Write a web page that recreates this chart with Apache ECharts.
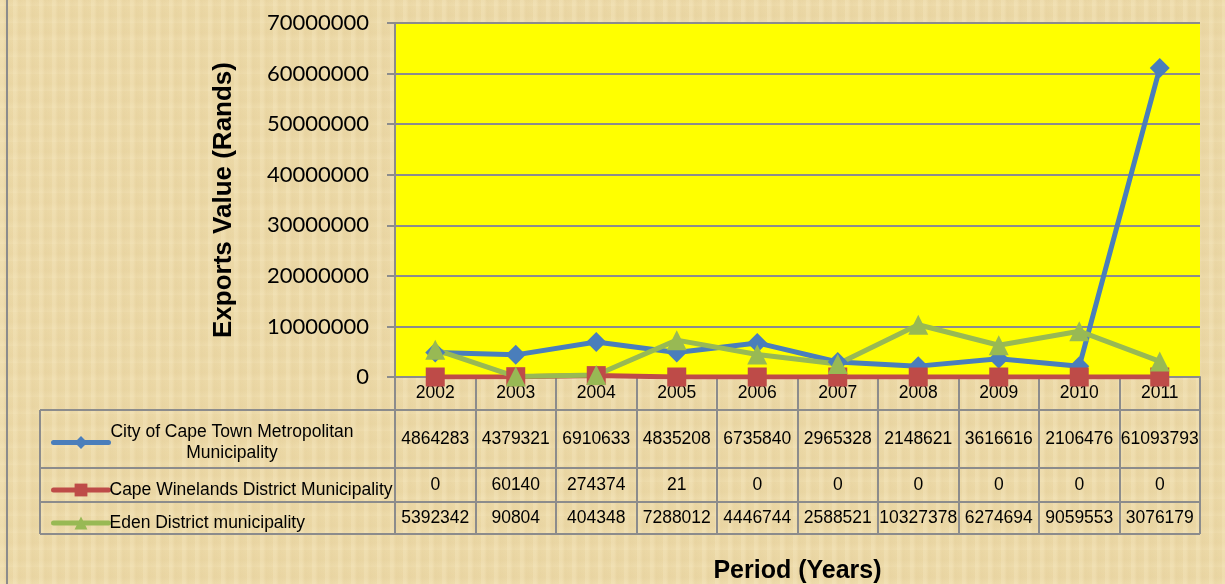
<!DOCTYPE html>
<html>
<head>
<meta charset="utf-8">
<script src="https://cdn.jsdelivr.net/npm/echarts@6/dist/echarts.min.js"></script>
<style>
  html, body { margin: 0; padding: 0; }
  #main {
    width: 1225px; height: 584px;
    background-color: #ecd9a7;
    background-image:
      repeating-linear-gradient(90deg, rgba(255,245,215,0.18) 0px, rgba(255,245,215,0.18) 3px, rgba(200,170,110,0.06) 6px, rgba(255,245,215,0) 13px),
      repeating-linear-gradient(0deg, rgba(255,245,215,0.12) 0px, rgba(200,170,110,0.05) 7px, rgba(255,245,215,0) 17px);
  }
</style>
</head>
<body>
<div id="main"></div>
<script>
var years = ['2002', '2003', '2004', '2005', '2006', '2007', '2008', '2009', '2010', '2011'];
var capeTown = [4864283, 4379321, 6910633, 4835208, 6735840, 2965328, 2148621, 3616616, 2106476, 61093793];
var winelands = [0, 60140, 274374, 21, 0, 0, 0, 0, 0, 0];
var eden = [5392342, 90804, 404348, 7288012, 4446744, 2588521, 10327378, 6274694, 9059553, 3076179];
var seriesNames = ['City of Cape Town Metropolitan Municipality', 'Cape Winelands District Municipality', 'Eden District municipality'];
var yTicks = [0, 10000000, 20000000, 30000000, 40000000, 50000000, 60000000, 70000000];

var gray = '#8c8c8c';
var tableFont = '"Liberation Sans", Arial, sans-serif';

var dom = document.getElementById('main');
var myChart = echarts.init(dom);

// extra category axes used as the rows of the data table
function tableRow(values, offset) {
    return {
        type: 'category',
        data: values.map(String),
        position: 'bottom',
        offset: offset,
        axisLine: { show: false },
        axisTick: { show: false },
        axisLabel: {
            interval: 0, margin: 0, verticalAlign: 'middle',
            color: '#000', fontFamily: tableFont, fontSize: 17.5
        }
    };
}

function rowLegend(name, top, text) {
    return {
        data: [name],
        left: 46,
        top: top,
        itemWidth: 55,
        itemHeight: 16,
        itemGap: 0,
        selectedMode: false,
        lineStyle: { width: 5, cap: 'round' },
        formatter: function () { return text; },
        textStyle: {
            color: '#000', fontFamily: tableFont, fontSize: 17.5, padding: [0, 0, 0, -4],
            rich: { c: { width: 245, align: 'center', fontFamily: tableFont, fontSize: 17.5, lineHeight: 21, color: '#000' } }
        }
    };
}

option = {
    backgroundColor: 'transparent',
    animation: false,
    grid: { left: 395, right: 25, top: 23, bottom: 207, outerBoundsMode: 'none', containLabel: false },
    legend: [
        rowLegend(seriesNames[0], 418, '{c|City of Cape Town Metropolitan}\n{c|Municipality}'),
        rowLegend(seriesNames[1], 476, seriesNames[1]),
        rowLegend(seriesNames[2], 509, seriesNames[2])
    ],
    xAxis: [{
        type: 'category',
        data: years,
        boundaryGap: true,
        name: 'Period (Years)',
        nameLocation: 'middle',
        nameGap: 182,
        nameTextStyle: { color: '#000', fontWeight: 'bold', fontSize: 25, fontFamily: '"Liberation Sans", Arial, sans-serif' },
        axisLine: { lineStyle: { color: gray, width: 2 } },
        axisTick: { show: true, length: 157, lineStyle: { color: gray, width: 2 } },
        axisLabel: {
            interval: 0, margin: 16, verticalAlign: 'middle',
            color: '#000', fontFamily: tableFont, fontSize: 17.5
        }
    },
        tableRow(capeTown, 62),
        tableRow(winelands, 108),
        tableRow(eden, 141)
    ],
    yAxis: {
        type: 'value',
        min: 0,
        max: 70000000,
        interval: 10000000,
        name: 'Exports Value (Rands)',
        nameLocation: 'middle',
        nameGap: 158,
        nameTextStyle: { color: '#000', fontWeight: 'bold', fontSize: 26, fontFamily: '"Liberation Sans", Arial, sans-serif' },
        axisLine: { show: true, lineStyle: { color: gray, width: 2 } },
        axisTick: { show: true, length: 8, lineStyle: { color: gray, width: 2 } },
        splitLine: { lineStyle: { color: gray, width: 2 } },
        axisLabel: {
            margin: 26,
            color: '#000', fontFamily: 'Lato, "Open Sans", sans-serif', fontSize: 22,
            formatter: function (v) { return yTicks.indexOf(v) >= 0 ? String(v) : ''; }
        }
    },
    series: [{
        name: seriesNames[0],
        type: 'line',
        data: capeTown,
        symbol: 'diamond',
        symbolSize: 20,
        lineStyle: { color: '#4a7ebb', width: 5 },
        itemStyle: { color: '#4a7ebb' }
    }, {
        name: seriesNames[1],
        type: 'line',
        data: winelands,
        symbol: 'rect',
        symbolSize: 19,
        lineStyle: { color: '#be4b48', width: 5 },
        itemStyle: { color: '#be4b48' }
    }, {
        name: seriesNames[2],
        type: 'line',
        data: eden,
        symbol: 'triangle',
        symbolSize: 20,
        lineStyle: { color: '#98b954', width: 5 },
        itemStyle: { color: '#98b954' }
    }],
    graphic: [
        // plot background
        { type: 'rect', z: -1, shape: { x: 395, y: 23, width: 805, height: 354 }, style: { fill: '#ffff00' } },
        // table rules
        { type: 'line', shape: { x1: 40, y1: 410, x2: 1200, y2: 410 }, style: { stroke: gray, lineWidth: 2 } },
        { type: 'line', shape: { x1: 40, y1: 468, x2: 1200, y2: 468 }, style: { stroke: gray, lineWidth: 2 } },
        { type: 'line', shape: { x1: 40, y1: 502, x2: 1200, y2: 502 }, style: { stroke: gray, lineWidth: 2 } },
        { type: 'line', shape: { x1: 40, y1: 534, x2: 1200, y2: 534 }, style: { stroke: gray, lineWidth: 2 } },
        { type: 'line', shape: { x1: 40, y1: 410, x2: 40, y2: 534 }, style: { stroke: gray, lineWidth: 2 } },
        // chart border
        { type: 'line', shape: { x1: 7, y1: 0, x2: 7, y2: 584 }, style: { stroke: gray, lineWidth: 2 } }
    ]
};

if (option && typeof option === 'object') {
    myChart.setOption(option, true);
}
</script>
</body>
</html>
